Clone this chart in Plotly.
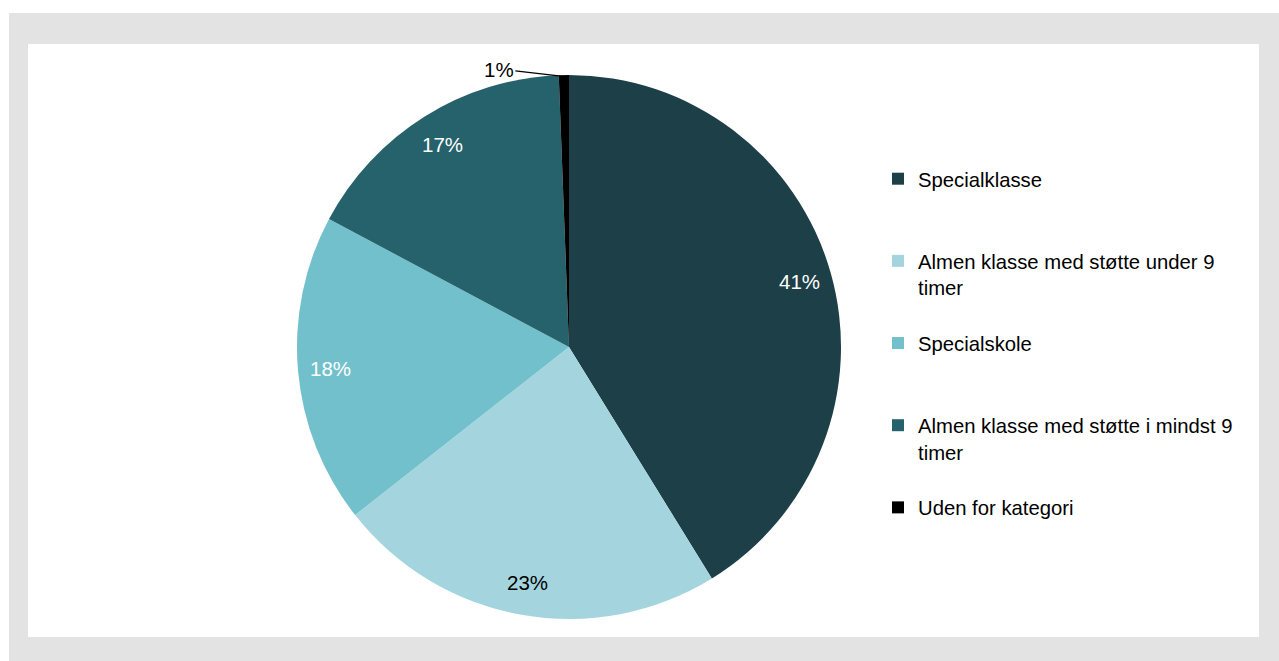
import math
import plotly.graph_objects as go

# ---- data ----
categories = [
    "Specialklasse",
    "Almen klasse med støtte under 9<br>timer",
    "Specialskole",
    "Almen klasse med støtte i mindst 9<br>timer",
    "Uden for kategori",
]
shares = [41.2, 23.2, 18.4, 16.6, 0.6]
slice_colors = ["#1c3f48", "#a4d5de", "#72c0cb", "#26626b", "#000000"]
label_colors = ["#ffffff", "#000000", "#ffffff", "#ffffff", "#000000"]

W, H = 1279, 661
FONT = "Arial, Liberation Sans, sans-serif"

# pad legend entries to equal height (3 lines each)
legend_labels = []
for c in categories:
    n = c.count("<br>") + 1
    legend_labels.append(c + "<br> " * (3 - n))

dom_x = [297 / W, 841 / W]
dom_y = [(H - 619) / H, (H - 75) / H]

fig = go.Figure(
    go.Pie(
        labels=legend_labels,
        values=shares,
        sort=False,
        direction="clockwise",
        rotation=0,
        marker=dict(colors=slice_colors, line=dict(width=0)),
        textinfo="none",
        domain=dict(x=dom_x, y=dom_y),
        hoverinfo="label+percent",
    )
)

# pie geometry (derived from the domain) for data-label placement
total = sum(shares)
cx = (dom_x[0] + dom_x[1]) / 2 * W
cy = (1 - (dom_y[0] + dom_y[1]) / 2) * H
r = min((dom_x[1] - dom_x[0]) * W, (dom_y[1] - dom_y[0]) * H) / 2

cum = 0.0
for i, v in enumerate(shares):
    mid = (cum + v / 2) / total
    cum += v
    ang = 2 * math.pi * mid
    pct_text = f"{round(v / total * 100)}%"
    if i < len(shares) - 1:
        rr = 0.88 * r
        px = cx + rr * math.sin(ang)
        py = cy - rr * math.cos(ang)
        fig.add_annotation(
            x=px / W, y=1 - py / H, xref="paper", yref="paper",
            xanchor="center", yanchor="middle",
            text=pct_text, showarrow=False,
            font=dict(family=FONT, size=20.5, color=label_colors[i]),
        )
    else:
        tip_x = cx + r * math.sin(ang) - 3
        tip_y = cy - r * math.cos(ang) + 1
        fig.add_annotation(
            x=tip_x / W, y=1 - tip_y / H, xref="paper", yref="paper",
            text=pct_text,
            showarrow=True, arrowhead=0, arrowwidth=1.2, arrowcolor="#000000",
            ax=-62, ay=-7,
            font=dict(family=FONT, size=20.5, color=label_colors[i]),
        )

# frame
fig.add_shape(type="rect", xref="paper", yref="paper",
              x0=9 / W, x1=1.0, y0=0.0, y1=1 - 13 / H,
              fillcolor="#e3e3e3", line=dict(width=0), layer="below")
fig.add_shape(type="rect", xref="paper", yref="paper",
              x0=28 / W, x1=1259 / W, y0=1 - 637 / H, y1=1 - 44 / H,
              fillcolor="#ffffff", line=dict(width=0), layer="below")

fig.update_layout(
    width=W, height=H,
    margin=dict(l=0, r=0, t=0, b=0),
    paper_bgcolor="#ffffff",
    showlegend=True,
    legend=dict(
        x=878 / W, xanchor="left",
        y=1 - 159 / H, yanchor="top",
        valign="top",
        font=dict(family=FONT, size=20.3, color="#000000"),
        bgcolor="rgba(0,0,0,0)",
        traceorder="normal",
    ),
    font=dict(family=FONT),
)

fig.write_html(
    "out.html",
    config={"displayModeBar": False},
    post_script="document.body.style.margin='0';document.body.style.overflow='hidden';",
)
